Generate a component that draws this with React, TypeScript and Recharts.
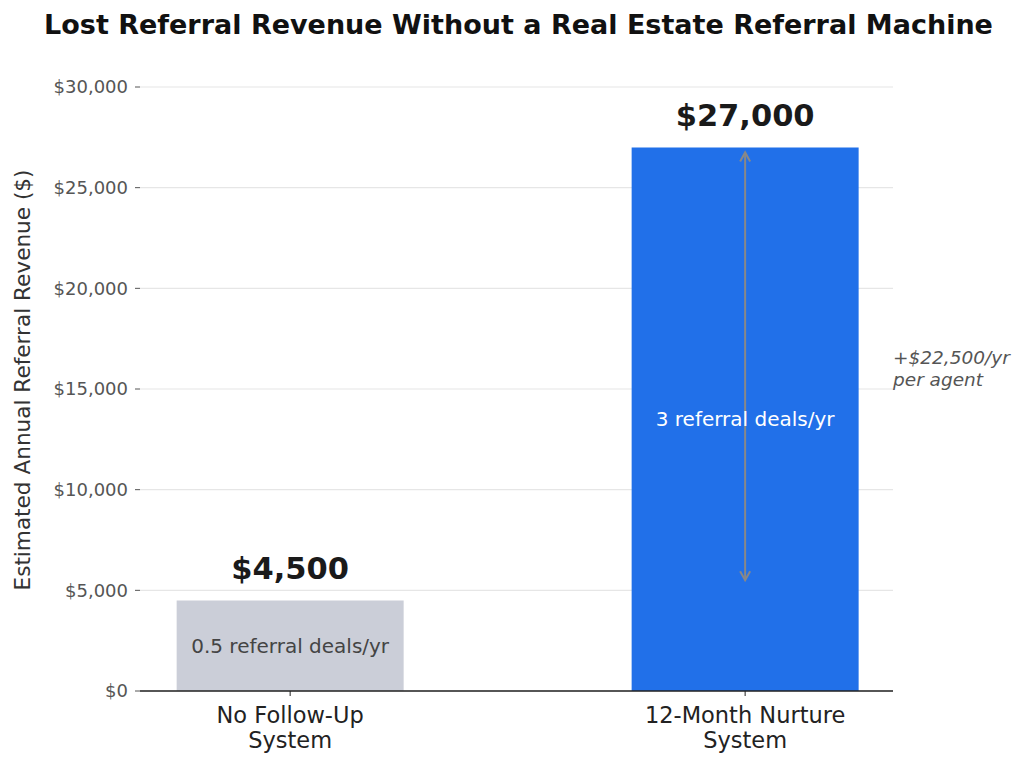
import React from "react";
import {
  BarChart,
  Bar,
  XAxis,
  YAxis,
  CartesianGrid,
  LabelList,
  ReferenceLine,
  ReferenceDot,
  Cell,
  Label,
} from "recharts";

const categories = ["No Follow-Up|System", "12-Month Nurture|System"];
const revenue = [4500, 27000];
const dealLabels = ["0.5 referral deals/yr", "3 referral deals/yr"];
const barColors = ["#cbced8", "#2170e9"];
const dealColors = ["#444444", "#ffffff"];
const yTicks = [0, 5000, 10000, 15000, 20000, 25000, 30000];
const arrowRange = [5500, 26750];
const upliftLines = ["+$22,500/yr", "per agent"];
const upliftY = 16000;
const xDomain = [-0.33, 1.325];

const data = categories.map((name, i) => ({
  idx: i,
  name,
  revenue: revenue[i],
  deals: dealLabels[i],
}));

const FONT = "'DejaVu Sans', sans-serif";

const money = (v: number) => "$" + v.toLocaleString("en-US");

const XTick = (props: any) => {
  const { x, y, payload } = props;
  const lines = categories[payload.value].split("|");
  return (
    <g>
      {lines.map((l, i) => (
        <text
          key={i}
          x={x}
          y={y + 17 + i * 25}
          textAnchor="middle"
          dominantBaseline="central"
          fontSize={22.5}
          fill="#222"
          fontFamily={FONT}
        >
          {l}
        </text>
      ))}
    </g>
  );
};

const ValueLabel = (props: any) => {
  const { x, y, width, value } = props;
  return (
    <text
      x={x + width / 2}
      y={y - 32}
      textAnchor="middle"
      dominantBaseline="central"
      fontSize={30.5}
      fontWeight="bold"
      fill="#1a1a1a"
      fontFamily={FONT}
    >
      {money(value)}
    </text>
  );
};

const DealLabel = (props: any) => {
  const { x, y, width, height, value, index } = props;
  return (
    <text
      x={x + width / 2}
      y={y + height / 2}
      textAnchor="middle"
      dominantBaseline="central"
      fontSize={20}
      fill={dealColors[index]}
      fontFamily={FONT}
    >
      {value}
    </text>
  );
};

const Arrow = (props: any) => {
  const { x1, y1, x2, y2 } = props;
  const top = Math.min(y1, y2);
  const bot = Math.max(y1, y2);
  const c = "#888888";
  return (
    <g>
      <line x1={x1} y1={top} x2={x2} y2={bot} stroke={c} strokeWidth={2} />
      <polyline points={`${x1 - 5},${top + 9} ${x1},${top} ${x1 + 5},${top + 9}`} fill="none" stroke={c} strokeWidth={2} />
      <polyline points={`${x1 - 5},${bot - 9} ${x1},${bot} ${x1 + 5},${bot - 9}`} fill="none" stroke={c} strokeWidth={2} />
    </g>
  );
};

const Uplift = (props: any) => {
  const { cx, cy } = props;
  return (
    <g>
      {upliftLines.map((l, i) => (
        <text
          key={i}
          x={cx}
          y={cy - 11 + i * 22}
          dominantBaseline="central"
          fontSize={18.5}
          fontStyle="italic"
          fill="#555"
          fontFamily={FONT}
        >
          {l}
        </text>
      ))}
    </g>
  );
};

const YLabel = (props: any) => {
  const { viewBox } = props;
  const cy = viewBox.y + viewBox.height / 2 - 9;
  return (
    <text
      x={22}
      y={cy}
      transform={`rotate(-90, 22, ${cy})`}
      textAnchor="middle"
      dominantBaseline="central"
      fontSize={21.6}
      fill="#333"
      fontFamily={FONT}
    >
      Estimated Annual Referral Revenue ($)
    </text>
  );
};

export default function App() {
  return (
    <div style={{ position: "absolute", left: 0, top: 0, width: 1024, height: 765, background: "#fff", fontFamily: FONT }}>
      <div
        style={{
          position: "absolute",
          left: 0,
          top: 9,
          width: 1037,
          textAlign: "center",
          fontSize: 27,
          fontWeight: "bold",
          color: "#111",
          lineHeight: "32px",
        }}
      >
        Lost Referral Revenue Without a Real Estate Referral Machine
      </div>
      <div style={{ position: "absolute", left: 0, top: 0 }}>
        <BarChart width={1024} height={765} data={data} margin={{ top: 87, right: 131, bottom: 0, left: 0 }}>
          <CartesianGrid horizontal vertical={false} stroke="#e6e6e6" strokeWidth={1.2} />
          <XAxis
            dataKey="idx"
            type="number"
            domain={xDomain}
            ticks={[0, 1]}
            allowDataOverflow
            height={74}
            tick={<XTick />}
            tickSize={5}
            tickLine={{ stroke: "#222" }}
            axisLine={{ stroke: "#222", strokeWidth: 1.5 }}
            interval={0}
          />
          <YAxis
            type="number"
            domain={[0, 30000]}
            ticks={yTicks}
            width={140}
            axisLine={false}
            tickSize={5}
            tickMargin={7}
            tickLine={{ stroke: "#555" }}
            tick={{ fontSize: 18, fill: "#555", fontFamily: FONT }}
            tickFormatter={money}
          >
            <Label content={<YLabel />} />
          </YAxis>
          <Bar dataKey="revenue" barSize={227} isAnimationActive={false}>
            {data.map((d, i) => (
              <Cell key={d.name} fill={barColors[i]} />
            ))}
            <LabelList dataKey="revenue" content={<ValueLabel />} />
            <LabelList dataKey="deals" content={<DealLabel />} />
          </Bar>
          <ReferenceLine
            segment={[
              { x: 1, y: arrowRange[0] },
              { x: 1, y: arrowRange[1] },
            ]}
            shape={<Arrow />}
            ifOverflow="visible"
          />
          <ReferenceDot x={xDomain[1]} y={upliftY} r={0} ifOverflow="visible" shape={<Uplift />} />
        </BarChart>
      </div>
    </div>
  );
}
